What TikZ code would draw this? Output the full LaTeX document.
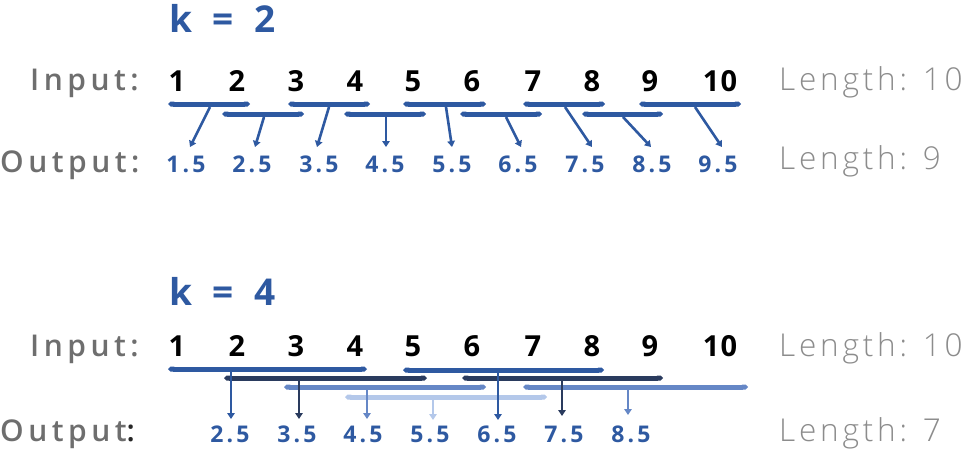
\documentclass[tikz,border=0pt]{standalone}
\usepackage{fontspec}
\setmainfont{Open Sans}
\newfontfamily\lightfont{Open Sans Light}[LetterSpace=12]
\newfontfamily\semifont{Open Sans Semibold}[LetterSpace=15]
\usetikzlibrary{arrows.meta}
\definecolor{kblue}{HTML}{2E59A1}
\definecolor{kdark}{HTML}{2A3B5E}
\definecolor{kmid}{HTML}{6587C6}
\definecolor{klight}{HTML}{B4C8EA}
\definecolor{labelgray}{HTML}{6E6E6E}
\definecolor{lengray}{HTML}{8C8C8C}
\tikzset{
  lbl/.style={anchor=base west, inner sep=0pt, text=labelgray, font=\semifont\fontsize{30}{36}\selectfont},
  len/.style={anchor=base west, inner sep=0pt, text=lengray, font=\lightfont\fontsize{31.5}{36}\selectfont},
  num/.style={anchor=base, inner sep=0pt, text=black, font=\bfseries\addfontfeatures{LetterSpace=4}\fontsize{29}{34}\selectfont},
  outv/.style={anchor=base, inner sep=0pt, text=kblue, font=\bfseries\addfontfeatures{LetterSpace=14}\fontsize{23}{27}\selectfont},
  ktitle/.style={anchor=base west, inner sep=0pt, text=kblue, font=\bfseries\addfontfeatures{LetterSpace=30}\fontsize{37}{42}\selectfont},
  bar/.style={line width=5pt, {Triangle Cap}-{Triangle Cap}},
  arr/.style={line width=2.6pt, -{Triangle[length=6pt,width=7.5pt]}},
}
\begin{document}
\begin{tikzpicture}[x=1pt,y=-1pt]
\useasboundingbox (0,0) rectangle (965,450);

% ---------- k = 2 ----------
\node[ktitle] (t1) at (169,32) {k = 2};
\node[lbl] (inlab1) at (30,90) {Input:};
\node[lbl] (outlab1) at (0,172) {Output:};
\node[len] (len1a) at (779,90) {Length: 10};
\node[len] (len1b) at (779,169) {Length: 9};
\foreach \x [count=\i] in {177,237,296,355,413,472,533,592,650,720}
  \node[num] (a\i) at (\x,91) {\i};
\foreach \x/\v [count=\i] in {186/1.5,252/2.5,319/3.5,385/4.5,452/5.5,518/6.5,585/7.5,652/8.5,718/9.5}
  \node[outv] (o\i) at (\x,172) {\v};

% bars (upper and lower rows)
\foreach \s/\e [count=\i] in {168/250,288/370,403/486,523/605,639/741}{
  \coordinate (ua\i) at (\s,104); \coordinate (ub\i) at (\e,104);
  \draw[bar, kblue] (ua\i) -- (ub\i);}
\foreach \s/\e [count=\i] in {222/304,344/426,460/542,582/663}{
  \coordinate (la\i) at (\s,114); \coordinate (lb\i) at (\e,114);
  \draw[bar, kblue] (la\i) -- (lb\i);}

% arrows
\foreach \x/\y/\ex [count=\i] in {210/107/190,264/117/255,329/107/317,386/117/386,446/107/452,506/117/521,565/107/592,623/117/651,695/107/722}{
  \coordinate (s\i) at (\x,\y);
  \coordinate (e\i) at (\ex,147);
  \draw[arr, kblue] (s\i) -- (e\i);}

% ---------- k = 4 ----------
\node[ktitle] (t2) at (169,305) {k = 4};
\node[lbl] (inlab2) at (30,356) {Input:};
\node[lbl] (outlab2) at (0,441) {Output\textcolor{black!85}{:}};
\node[len] (len2a) at (779,356) {Length: 10};
\node[len] (len2b) at (779,441) {Length: 7};
\foreach \x [count=\i] in {177,237,296,355,413,472,533,592,650,720}
  \node[num] (b\i) at (\x,356) {\i};
\foreach \x/\v [count=\i] in {230/2.5,297/3.5,363/4.5,430/5.5,497/6.5,564/7.5,631/8.5}
  \node[outv] (p\i) at (\x,442) {\v};

% bars
\coordinate (B1a) at (168,369); \coordinate (B1b) at (367,369);
\coordinate (B2a) at (403,370); \coordinate (B2b) at (604,370);
\coordinate (D1a) at (224,378); \coordinate (D1b) at (427,378);
\coordinate (D2a) at (462,378); \coordinate (D2b) at (663,378);
\coordinate (M1a) at (284,387); \coordinate (M1b) at (486,387);
\coordinate (M2a) at (523,387); \coordinate (M2b) at (748,387);
\coordinate (L1a) at (345,397); \coordinate (L1b) at (547,397);
\draw[bar, klight] (L1a) -- (L1b);
\draw[bar, kmid] (M1a) -- (M1b);
\draw[bar, kmid] (M2a) -- (M2b);
\draw[bar, kdark] (D1a) -- (D1b);
\draw[bar, kdark] (D2a) -- (D2b);
\draw[bar, kblue] (B1a) -- (B1b);
\draw[bar, kblue] (B2a) -- (B2b);

% arrows
\coordinate (q1) at (231,369); \coordinate (r1) at (231,419);
\coordinate (q2) at (299,378); \coordinate (r2) at (299,419);
\coordinate (q3) at (367,387); \coordinate (r3) at (367,419);
\coordinate (q4) at (433,397); \coordinate (r4) at (433,420);
\coordinate (q5) at (498,370); \coordinate (r5) at (498,420);
\coordinate (q6) at (562,378); \coordinate (r6) at (562,416);
\coordinate (q7) at (628,387); \coordinate (r7) at (628,415);
\draw[arr, kblue] (q1) -- (r1);
\draw[arr, kdark] (q2) -- (r2);
\draw[arr, kmid] (q3) -- (r3);
\draw[arr, klight] (q4) -- (r4);
\draw[arr, kblue] (q5) -- (r5);
\draw[arr, kdark] (q6) -- (r6);
\draw[arr, kmid] (q7) -- (r7);
\end{tikzpicture}
\end{document}
